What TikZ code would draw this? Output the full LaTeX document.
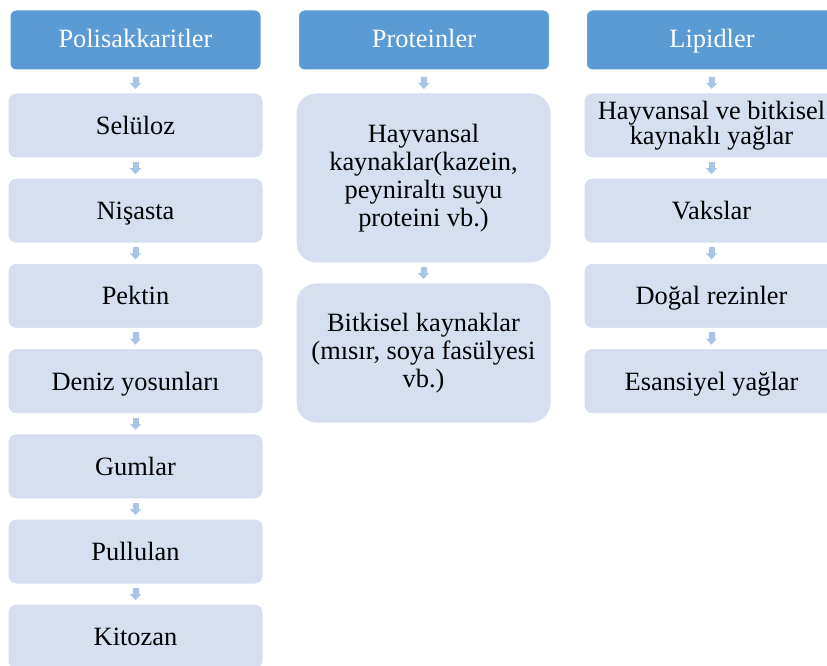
\documentclass[tikz,border=0pt]{standalone}
\usepackage{fontspec}
\setmainfont{Liberation Serif}
\usetikzlibrary{arrows.meta}
\definecolor{basrenk}{HTML}{5B9BD5}
\definecolor{kutrenk}{HTML}{D5DFEF}
\definecolor{okrenk}{HTML}{AAC4E6}
\tikzset{
  baslik/.style={rectangle, rounded corners=4.5pt, fill=basrenk, draw=white,
    line width=0.75pt, text=white, minimum width=188.25pt, minimum height=45pt,
    outer sep=0pt, text height=14pt, text depth=2.75pt,
    font=\fontsize{19.8}{21}\selectfont},
  kutu/.style={rectangle, rounded corners=6pt, fill=kutrenk, draw=white,
    line width=0.75pt, minimum width=191.25pt, minimum height=48.75pt,
    outer sep=0pt, align=center, text height=15pt, text depth=1.5pt,
    font=\fontsize{19.8}{21}\selectfont},
  uzun/.style={text height=, text depth=},
  ok/.style={-{Triangle[width=8.25pt,length=4.5pt]}, line width=4.5pt,
    draw=okrenk, shorten <=3pt, shorten >=3pt}
}
\begin{document}
\begin{tikzpicture}[x=0.75pt,y=-0.75pt]
      \useasboundingbox (0,0) rectangle (827,666);
      \clip (0,0) rectangle (827,666);
      \draw
        (135.5,40) node[baslik] (pol){Polisakkaritler}
        (424,40) node[baslik] (pro){Proteinler}
        (712,40) node[baslik] (lip){Lipidler}
        (135.5,125.5) node[kutu] (sel){Selüloz}
        (135.5,210.7) node[kutu] (nis){Nişasta}
        (135.5,295.9) node[kutu] (pek){Pektin}
        (135.5,381.1) node[kutu] (den){Deniz yosunları}
        (135.5,466.3) node[kutu] (gum){Gumlar}
        (135.5,551.5) node[kutu] (pul){Pullulan}
        (135.5,636.7) node[kutu] (kit){Kitozan}
        (423.5,178) node[kutu, uzun, rounded corners=15pt, minimum height=127.5pt] (hay)
          {Hayvansal\\kaynaklar(kazein,\\peyniraltı suyu\\proteini vb.)}
        (423.5,353) node[kutu, uzun, rounded corners=15pt, minimum height=105pt] (bit)
          {Bitkisel kaynaklar\\(mısır, soya fasülyesi\\vb.)}
        (711.5,125.5) node[kutu, uzun, font=\fontsize{19.8}{18.75}\selectfont] (yag)
          {Hayvansal ve bitkisel\\kaynaklı yağlar}
        (711.5,210.7) node[kutu] (vak){Vakslar}
        (711.5,295.9) node[kutu] (rez){Doğal rezinler}
        (711.5,381.1) node[kutu] (esa){Esansiyel yağlar};
      \begin{scope}[ok]
        \draw[shorten <=5.25pt] (pol) to (sel);
        \draw (sel) to (nis);
        \draw (nis) to (pek);
        \draw (pek) to (den);
        \draw (den) to (gum);
        \draw (gum) to (pul);
        \draw (pul) to (kit);
        \draw[shorten <=5.25pt] (pro) to (hay);
        \draw (hay) to (bit);
        \draw[shorten <=5.25pt] (lip) to (yag);
        \draw (yag) to (vak);
        \draw (vak) to (rez);
        \draw (rez) to (esa);
      \end{scope}
    \end{tikzpicture}
\end{document}
